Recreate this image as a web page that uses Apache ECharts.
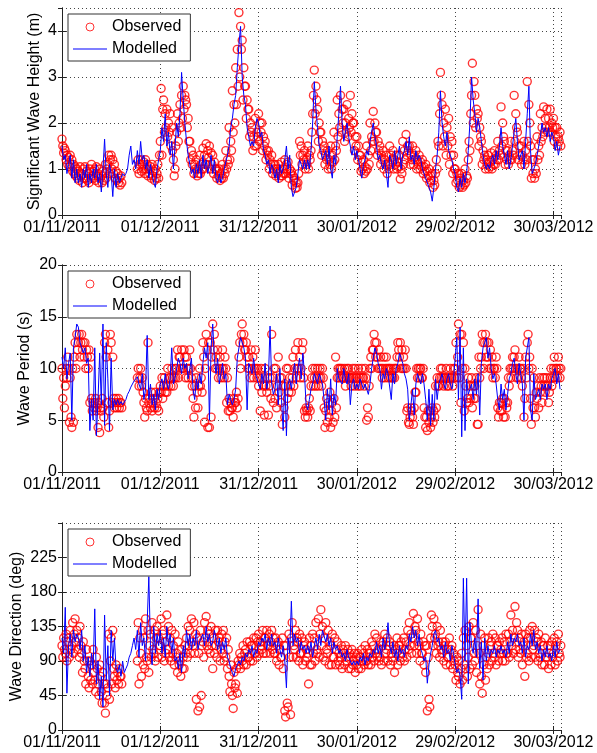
<!DOCTYPE html>
<html>
<head>
<meta charset="utf-8">
<script src="https://cdn.jsdelivr.net/npm/echarts@6/dist/echarts.min.js"></script>
<style>
html, body { margin: 0; padding: 0; background: #fff; }
#chart { width: 597px; height: 753px; }
</style>
</head>
<body>
<div id="chart"></div>
<script>
// x is days since 01/11/2011; observations every 6 h, model output every 12 h
var obsStep = 0.25;
var modStep = 0.5;
var tickLabels = ['01/11/2011', '01/12/2011', '31/12/2011', '30/01/2012', '29/02/2012', '30/03/2012'];

// significant wave height (m), observed, 4 per day
var hsObs = [
  1.65,1.5,1.35,1.45, 1.4,1.2,1.3,1.1, 1.25,1.05,1.3,1.1, 1.2,0.95,1.1,0.9, 1.05,0.85,1.0,0.8,
  0.95,0.75,1.05,0.85, 0.9,0.7,1.0,0.8, 1.05,0.8,0.95,0.75, 0.9,0.7,1.0,0.8, 1.1,0.85,0.95,0.8,
  1.0,0.75,1.05,0.85, 0.9,0.7,1.0,0.8, 0.85,0.7,0.95,0.75, 0.9,1.1,0.8,1.0, 1.1,1.3,0.9,1.2,
  1.3,1.0,1.2,0.9, 1.1,0.8,0.95,0.75, 0.9,0.7,0.8,0.65, 0.85,0.7,null,null, null,null,null,null,
  null,null,null,null, null,null,null,null, null,null,null,null, 1.0,1.2,0.9,1.1, 1.2,0.95,1.1,1.0,
  1.15,0.9,1.2,1.0, 1.1,0.85,1.0,0.9, 1.05,0.8,1.1,0.85, 0.95,0.75,1.0,0.8, 0.9,1.1,0.8,1.3,
  1.6,2.75,1.3,2.3, 2.5,1.8,2.2,1.9, 2.3,1.7,2.0,1.8, 2.2,1.5,1.9,1.4, 1.2,0.85,1.0,1.5,
  1.8,2.2,1.6,2.0, 2.4,1.9,2.6,2.1, 2.8,2.3,2.6,2.5, 2.4,1.9,2.1,1.6, 1.6,1.2,1.4,1.1,
  1.3,0.9,1.1,1.0, 1.2,0.85,1.0,0.9, 1.3,0.9,1.1,1.0, 1.45,1.0,1.3,1.1, 1.55,1.1,1.4,1.25,
  1.5,1.0,1.35,1.1, 1.3,0.9,1.15,1.0, 1.0,0.8,0.95,0.85, 1.0,0.75,0.9,0.8, 1.1,0.8,1.0,0.9,
  1.4,1.0,1.2,1.1, 1.9,1.2,1.6,1.4, 2.7,1.8,2.4,2.0, 3.2,2.4,3.6,2.8, 4.4,3.0,4.1,3.6,
  3.8,2.5,3.2,2.8, 2.8,2.1,2.5,2.3, 2.3,1.7,2.0,1.8, 1.9,1.4,1.7,1.5, 2.1,1.5,1.8,1.7,
  2.2,1.6,2.0,1.8, 2.0,1.4,1.7,1.5, 1.6,1.2,1.4,1.3, 1.4,1.0,1.2,1.1, 1.3,0.9,1.1,1.0,
  1.1,0.85,1.0,0.9, 1.1,0.8,0.95,0.85, 1.15,0.85,1.0,0.9, 1.2,0.9,1.1,1.0, 1.15,0.8,1.0,0.9,
  0.95,0.65,0.85,0.75, 0.8,0.58,0.7,0.6, 0.7,0.9,1.6,1.3, 1.5,1.1,1.3,1.2, 1.4,1.0,1.2,1.1,
  1.5,1.0,1.3,1.2, 1.4,1.8,2.2,2.6, 3.15,2.2,2.8,2.5, 2.3,1.6,2.0,1.8, 1.8,1.3,1.6,1.4,
  1.5,1.1,1.3,1.2, 1.4,1.0,1.2,1.1, 1.5,1.0,1.3,1.15, 1.8,1.2,1.5,1.4, 2.5,1.7,2.2,1.9,
  2.6,1.8,2.3,2.0, 2.3,1.6,2.0,1.8, 2.4,1.7,2.1,1.9, 2.6,1.8,2.2,2.0, 2.0,1.4,1.7,1.5,
  1.7,1.2,1.5,1.3, 1.3,0.95,1.15,1.0, 1.2,0.9,1.05,0.95, 1.5,1.0,1.3,1.1, 2.0,1.4,1.7,1.6,
  2.25,1.6,2.0,1.8, 1.8,1.3,1.6,1.4, 1.5,1.1,1.3,1.2, 1.4,1.0,1.2,1.1, 1.3,0.9,1.1,1.0,
  1.5,1.1,1.3,1.2, 1.4,1.0,1.2,1.1, 1.3,1.0,1.15,1.05, 1.3,0.78,1.0,0.9, 1.6,1.1,1.4,1.2,
  1.75,1.3,1.5,1.4, 1.5,1.1,1.3,1.2, 1.5,1.1,1.3,1.2, 1.4,1.0,1.2,1.1, 1.3,1.0,1.15,1.05,
  1.2,0.9,1.05,0.95, 1.1,0.8,0.95,0.85, 1.0,0.7,0.85,0.75, 0.9,0.6,0.75,0.65, 0.9,1.2,1.0,1.6,
  1.5,2.2,3.1,2.6, 2.4,1.5,2.0,1.7, 2.3,1.3,1.9,1.5, 2.1,1.1,1.7,1.3, 1.6,0.9,1.3,1.0,
  1.0,0.7,0.9,0.75, 0.9,0.6,0.8,0.65, 0.9,0.6,0.75,0.65, 1.0,0.7,0.85,0.8, 1.2,1.6,1.4,2.2,
  2.6,3.3,2.0,2.9, 2.6,1.9,2.3,2.1, 2.2,1.5,1.9,1.7, 1.6,1.1,1.4,1.2, 1.3,1.0,1.2,1.1,
  1.3,1.0,1.15,1.05, 1.35,1.0,1.2,1.1, 1.4,1.1,1.3,1.2, 1.6,1.2,1.4,1.3, 2.35,1.5,2.0,1.7,
  1.6,1.1,1.4,1.2, 1.4,1.1,1.3,1.2, 1.6,1.2,1.4,1.3, 2.6,1.6,2.2,1.9, 1.8,1.2,1.5,1.3,
  1.5,1.1,1.3,1.2, 1.6,1.1,1.4,1.2, 2.9,1.6,2.4,2.0, 1.5,0.8,1.2,0.9, 1.2,0.8,1.0,0.9,
  1.7,1.2,1.5,1.3, 2.2,1.6,1.9,1.7, 2.35,1.8,2.1,1.9, 2.3,1.8,2.1,1.9, 2.3,1.8,2.0,1.9,
  2.1,1.6,1.9,1.7, 1.9,1.5,1.7,1.6, 1.8,1.5
];
// significant wave height (m), modelled, 2 per day
var hsMod = [
  1.5, 1.2, 1.3, 0.9, 1.1, 1.3, 0.8, 1.2, 0.7, 1.0,
  0.7, 0.9, 0.6, 1.0, 0.8, 1.1, 0.6, 0.9, 0.7, 1.0,
  0.8, 1.1, 0.7, 0.9, 0.5, 1.0, 1.65, 0.9, 0.6, 1.1,
  0.9, 0.4, 1.0, 0.6, 0.9, 0.7, 0.8, 0.9, 0.85, 0.9,
  1.0, 1.3, 1.5, 1.1, 1.2, 1.0, 1.4, 1.1, 1.6, 1.2,
  1.3, 1.0, 1.2, 0.8, 1.1, 0.9, 0.7, 0.6, 1.0, 1.2,
  1.4, 1.9, 1.6, 2.2, 1.5, 1.8, 1.3, 1.6, 1.0, 1.0,
  2.0, 1.7, 2.2, 3.1, 2.5, 2.0, 1.6, 1.3, 1.1, 0.9,
  1.0, 0.8, 1.1, 0.9, 1.2, 0.8, 1.3, 1.0, 1.2, 0.9,
  1.1, 1.3, 0.9, 1.2, 0.8, 0.7, 0.9, 0.7, 0.8, 1.0,
  1.0, 1.3, 1.5, 1.9, 2.1, 2.4, 2.6, 3.2, 3.7, 4.1,
  3.0, 2.6, 2.4, 1.9, 1.7, 1.5, 1.6, 1.5, 1.9, 2.1,
  2.0, 1.7, 1.8, 1.4, 1.3, 1.1, 1.2, 0.9, 1.1, 1.0,
  0.8, 1.0, 0.7, 1.1, 0.9, 1.0, 1.2, 1.5, 1.0, 1.3,
  0.6, 0.4, 0.5, 0.6, 0.9, 1.2, 1.1, 1.0, 1.2, 1.0,
  1.2, 1.0, 1.4, 2.0, 2.9, 2.3, 1.9, 1.5, 1.4, 1.2,
  1.2, 1.4, 1.1, 1.5, 1.0, 0.8, 1.3, 1.1, 1.7, 2.2,
  2.8, 2.0, 1.6, 1.8, 2.0, 1.7, 1.5, 1.3, 1.5, 1.2,
  1.4, 1.2, 1.0, 0.8, 1.1, 1.2, 1.4, 1.3, 1.6, 1.8,
  2.0, 1.7, 1.5, 1.2, 1.3, 1.1, 1.0, 1.2, 0.9, 0.6,
  1.3, 1.2, 1.0, 1.4, 1.1, 1.3, 1.5, 1.0, 1.3, 1.4,
  1.6, 1.3, 1.7, 1.2, 1.3, 1.1, 1.4, 1.2, 1.3, 1.2,
  1.0, 0.9, 0.8, 0.7, 0.6, 0.5, 0.3, 0.6, 1.0, 1.3,
  1.8, 2.7, 2.0, 1.7, 1.5, 1.8, 1.4, 1.3, 1.2, 1.0,
  0.9, 0.6, 0.5, 0.8, 0.6, 0.9, 0.7, 0.9, 1.4, 2.0,
  3.0, 2.5, 2.2, 1.8, 2.1, 1.9, 1.6, 1.3, 1.1, 1.0,
  1.1, 1.0, 1.2, 1.3, 1.1, 1.4, 1.2, 1.5, 1.9, 1.5,
  1.3, 1.1, 1.4, 1.0, 1.2, 1.5, 1.8, 2.1, 1.6, 1.2,
  1.2, 1.4, 1.0, 1.6, 2.2, 2.8, 1.4, 0.9, 1.0, 1.1,
  1.3, 1.5, 1.7, 2.0, 1.8, 1.9, 1.7, 1.9, 1.6, 1.8,
  1.7, 1.4, 1.6, 1.3, 1.5
];

// wave period (s), observed, 4 per day
var tpObs = [
  10.0,7.1,9.1,6.2, 8.3,10.0,9.1,11.1, 10.0,4.8,9.1,5.3, 4.3,10.0,4.8,11.1, 12.5,10.0,13.3,11.8,
  12.5,13.3,11.1,12.5, 13.3,11.8,12.5,11.1, 12.5,10.0,11.8,11.1, 10.0,11.8,6.7,11.1, 7.1,5.9,6.7,6.2,
  6.7,7.1,5.9,6.2, 4.3,6.7,3.8,6.2, 5.9,7.1,6.2,5.3, 12.5,13.3,11.1,6.7, 11.8,4.3,5.9,13.3,
  12.5,6.7,11.1,7.1, 6.2,6.7,7.1,6.2, 6.7,7.1,6.2,6.7, 6.7,6.2,null,null, null,null,null,null,
  null,null,null,null, null,null,null,null, null,null,null,null, 9.1,10.0,8.3,9.1, 10.0,8.3,9.1,7.7,
  6.7,5.3,7.1,6.2, 5.9,12.5,6.7,7.1, 6.2,7.7,5.9,6.7, 7.1,6.2,7.7,6.7, 6.2,7.1,5.9,7.7,
  8.3,7.7,9.1,7.1, 8.3,9.1,7.7,8.3, 7.7,10.0,8.3,9.1, 9.1,8.3,10.0,9.1, 8.3,9.1,10.0,9.1,
  10.0,11.8,9.1,11.1, 11.1,10.0,11.8,10.0, 10.0,11.8,11.1,9.1, 11.1,10.0,9.1,10.0, 11.8,10.0,9.1,8.3,
  7.1,5.3,8.3,6.2, 9.1,7.7,6.2,8.3, 10.0,8.3,9.1,7.7, 12.5,11.1,4.8,10.0, 13.3,11.8,4.3,12.5,
  4.3,12.5,5.3,11.1, 14.3,11.8,13.3,10.0, 11.1,10.0,11.8,9.1, 10.0,11.1,9.1,10.0, 11.8,10.0,9.1,11.1,
  10.0,6.7,9.1,5.9, 7.1,5.9,6.7,6.2, 6.2,5.3,7.1,6.7, 6.7,7.7,6.2,7.1, 11.1,12.5,10.0,13.3,
  14.3,12.5,13.3,11.8, 11.8,12.5,11.1,10.0, 11.1,10.0,9.1,11.8, 10.0,11.1,9.1,10.0, 11.8,10.0,9.1,10.0,
  8.3,9.1,5.9,10.0, 7.7,9.1,8.3,5.5, 10.0,8.3,7.7,9.1, 5.5,8.3,9.1,7.1, 13.3,9.1,6.7,10.0,
  7.1,10.0,6.2,8.3, 11.1,7.7,9.1,6.7, 9.1,4.6,8.3,6.2, 5.3,8.3,10.0,7.1, 10.0,7.7,9.1,8.3,
  7.7,9.1,11.1,8.3, 10.0,11.8,9.1,10.0, 12.5,10.0,11.1,9.1, 10.0,11.8,12.5,9.1, 5.9,5.3,6.2,5.9,
  5.3,6.2,7.1,5.9, 8.3,9.1,10.0,8.3, 9.1,10.0,8.3,9.1, 10.0,8.3,9.1,10.0, 9.1,8.3,10.0,9.1,
  6.2,4.3,5.9,7.1, 4.8,6.7,5.3,7.7, 4.3,5.9,6.7,4.8, 7.1,5.3,11.1,6.2, 9.1,10.0,9.1,10.0,
  10.0,9.1,10.0,9.1, 9.1,10.0,8.3,9.1, 10.0,9.1,10.0,9.1, 9.1,8.3,9.1,10.0, 9.1,8.3,10.0,9.1,
  9.1,8.3,10.0,9.1, 8.3,9.1,10.0,9.1, 9.1,8.3,10.0,9.1, 5.0,6.2,5.3,8.3, 10.0,11.1,10.0,11.8,
  11.8,13.3,12.5,11.1, 12.5,11.1,10.0,11.8, 10.0,11.1,10.0,9.1, 10.0,11.1,9.1,10.0, 11.1,10.0,9.1,10.0,
  10.0,9.1,10.0,9.1, 9.1,10.0,9.1,10.0, 10.0,11.1,12.5,11.8, 11.1,12.5,10.0,11.8, 10.0,11.1,10.0,11.8,
  10.0,5.9,6.2,4.8, 4.6,5.3,6.2,5.9, 5.3,4.6,6.2,7.7, 7.7,10.0,9.1,10.0, 9.1,10.0,10.0,9.1,
  9.1,10.0,6.2,5.3, 4.3,5.3,4.0,5.9, 4.8,5.9,4.3,5.3, 6.2,4.8,5.9,5.3, 8.3,6.2,9.1,8.3,
  8.3,9.1,10.0,9.1, 10.0,9.1,8.3,9.1, 9.1,10.0,8.3,9.1, 8.3,9.1,10.0,9.1, 9.1,8.3,10.0,9.1,
  10.0,12.5,9.1,11.1, 14.3,9.1,13.3,6.7, 13.3,10.0,12.5,5.9, 10.0,8.3,6.7,7.1, 9.1,6.7,8.3,7.1,
  9.1,6.2,8.3,7.1, 8.3,7.1,9.1,4.6, 4.6,11.1,9.1,10.0, 11.1,13.3,12.5,10.0, 12.5,13.3,11.1,12.5,
  11.1,12.5,10.0,11.8, 10.0,11.1,9.1,10.0, 10.0,9.1,11.1,10.0, 6.2,5.3,6.7,5.9, 6.7,5.9,7.1,5.3,
  7.1,5.3,6.7,6.2, 6.7,9.1,8.3,10.0, 9.1,10.0,11.1,10.0, 11.1,11.8,10.0,9.1, 10.0,9.1,11.1,10.0,
  10.0,9.1,8.3,10.0, 5.3,7.1,11.1,9.1, 12.5,13.3,10.0,11.1, 7.1,4.6,10.0,6.2, 9.1,6.2,5.3,7.7,
  7.1,8.3,6.2,9.1, 7.7,8.3,6.7,9.1, 8.3,9.1,7.7,8.3, 9.1,8.3,6.7,7.7, 9.1,10.0,8.3,9.1,
  10.0,11.1,9.1,10.0, 10.0,9.1,11.1,10.0, 9.1,10.0
];
// wave period (s), modelled, 2 per day
var tpMod = [
  11.1, 10.0, 12.0, 9.0, 10.5, 11.5, 5.0, 12.0, 13.0, 14.3,
  14.0, 12.5, 12.0, 11.5, 12.0, 10.5, 11.0, 4.0, 7.0, 5.0,
  12.0, 3.5, 7.0, 11.5, 6.5, 14.3, 4.5, 12.5, 9.0, 4.0,
  11.0, 6.0, 7.0, 6.5, 7.0, 6.5, 6.8, 6.5, 6.5, 7.0,
  7.5, 7.8, 8.2, 8.5, 8.8, 9.0, 9.2, 8.5, 8.0, 9.5,
  7.0, 8.0, 13.2, 7.0, 8.5, 6.5, 7.5, 6.0, 8.0, 7.0,
  8.5, 9.0, 8.0, 9.5, 8.5, 8.0, 9.0, 12.0, 8.5, 9.0,
  10.0, 11.0, 10.5, 9.5, 11.0, 10.0, 10.5, 9.0, 10.0, 11.0,
  8.0, 7.0, 9.0, 8.0, 9.5, 8.5, 10.5, 12.0, 11.0, 12.5,
  5.0, 12.0, 14.3, 11.0, 9.5, 11.0, 8.5, 9.5, 10.5, 9.0,
  9.5, 6.5, 7.5, 7.0, 6.5, 7.0, 8.0, 11.0, 12.0, 13.0,
  12.5, 12.0, 11.0, 6.0, 10.5, 10.0, 9.5, 11.0, 9.5, 9.0,
  8.5, 8.0, 9.5, 8.5, 10.5, 8.0, 9.0, 14.1, 8.5, 7.5,
  8.0, 9.5, 6.5, 10.0, 7.0, 4.0, 9.0, 3.5, 8.5, 9.0,
  8.0, 9.5, 10.5, 8.5, 10.0, 11.0, 9.0, 11.5, 9.5, 6.5,
  6.0, 7.0, 8.0, 8.5, 9.5, 9.0, 8.5, 9.5, 9.0, 8.5,
  7.0, 5.0, 8.0, 6.0, 9.0, 5.5, 7.5, 6.5, 10.0, 9.0,
  9.0, 8.5, 10.0, 9.0, 8.5, 9.5, 6.5, 8.5, 9.0, 8.0,
  8.5, 8.0, 9.0, 8.5, 8.0, 8.5, 8.0, 7.5, 8.5, 10.0,
  11.0, 12.0, 11.5, 10.5, 10.0, 8.0, 9.5, 9.0, 10.0, 9.5,
  9.5, 7.0, 9.5, 8.5, 10.0, 10.5, 11.5, 11.0, 10.5, 9.5,
  9.0, 8.0, 5.0, 6.5, 8.0, 5.5, 8.5, 9.5, 9.0, 8.5,
  9.5, 8.5, 7.0, 5.0, 8.0, 4.5, 7.5, 5.0, 9.0, 7.0,
  8.5, 9.0, 9.5, 8.5, 8.0, 9.0, 9.5, 8.5, 8.0, 9.0,
  9.0, 13.0, 7.0, 14.0, 3.4, 12.0, 4.0, 9.0, 7.5, 8.0,
  8.5, 7.0, 9.0, 7.5, 9.5, 5.5, 10.5, 12.0, 12.5, 13.0,
  11.0, 12.0, 10.0, 9.0, 9.5, 8.5, 7.0, 6.0, 8.5, 7.0,
  8.0, 6.0, 7.5, 9.0, 9.5, 10.5, 11.0, 9.5, 8.5, 10.5,
  9.5, 8.5, 5.0, 11.0, 12.0, 13.0, 6.0, 5.0, 9.5, 7.0,
  7.5, 8.0, 7.0, 8.5, 8.0, 8.5, 7.0, 8.5, 8.0, 9.0,
  9.5, 10.0, 8.5, 9.5, 8.0
];

// wave direction (deg), observed, 4 per day
var dirObs = [
  110,95,120,105, 100,125,90,115, 120,95,130,105, 110,140,100,125, 145,115,130,105,
  120,95,135,110, 100,75,115,90, 80,60,105,90, 70,55,90,65, 85,60,105,75,
  65,50,95,80, 60,45,85,70, 50,35,75,60, 35,22,60,45, 55,125,40,90,
  120,60,130,80, 70,55,85,65, 75,60,80,70, 70,60,null,null, null,null,null,null,
  null,null,null,null, null,null,null,null, null,null,null,null, 90,140,60,120, 100,70,130,85,
  120,80,145,95, 90,130,75,110, 125,95,140,105, 100,130,90,120, 135,95,120,110,
  110,145,95,125, 130,90,115,100, 150,105,135,95, 120,90,130,100, 110,85,125,95,
  100,75,115,85, 90,70,105,80, 95,80,110,100, 120,95,135,110, 130,100,145,115,
  110,140,100,125, 40,120,25,100, 30,130,45,110, 115,95,140,120, 148,110,130,105,
  125,100,135,110, 80,120,100,130, 110,95,130,115, 120,90,105,125, 100,130,90,115,
  95,120,80,105, 70,50,85,60, 45,28,75,55, 60,80,48,90, 85,100,80,95,
  90,110,85,100, 105,85,115,95, 95,115,90,110, 110,90,120,100, 100,120,95,115,
  125,100,115,110, 105,130,100,120, 120,100,130,110, 110,125,100,115, 130,105,120,100,
  100,120,90,110, 115,85,105,95, 95,120,80,110, 25,17,110,35, 30,125,95,20,
  120,140,95,110, 105,130,95,120, 115,90,125,100, 100,120,85,110, 115,90,105,95,
  100,60,120,85, 110,85,125,100, 120,90,140,105, 100,145,95,125, 157,110,135,95,
  120,90,140,105, 100,130,85,115, 110,85,125,95, 95,120,85,105, 115,90,100,85,
  95,110,80,105, 100,85,110,95, 90,105,80,100, 95,80,105,85, 90,100,75,95,
  85,100,80,95, 95,80,105,90, 100,85,110,90, 90,105,85,100, 100,85,115,95,
  110,90,125,100, 120,95,105,90, 95,115,85,110, 115,90,125,100, 105,120,90,110,
  115,85,100,95, 90,110,75,105, 100,120,85,110, 110,90,115,100, 95,120,90,105,
  115,95,130,105, 140,110,125,100, 120,152,110,135, 130,100,145,115, 110,90,125,100,
  100,115,85,110, 75,110,25,95, 40,30,120,150, 135,110,145,120, 125,100,135,110,
  115,95,130,105, 100,115,90,110, 115,85,105,95, 95,120,85,105, 110,80,100,90,
  85,65,95,75, 70,90,60,80, 100,65,120,85, 130,80,110,70, 95,135,80,120,
  120,85,140,100, 90,130,75,110, 157,100,60,125, 70,48,110,85, 120,65,95,80,
  100,120,85,110, 115,90,125,100, 95,120,85,110, 110,90,115,100, 105,120,90,100,
  115,90,125,100, 100,125,95,115, 150,110,130,100, 120,161,105,140, 130,95,120,105,
  100,125,85,110, 115,70,125,95, 100,120,90,130, 120,95,135,105, 110,130,95,120,
  115,90,125,100, 95,115,85,110, 110,85,120,95, 95,110,80,100, 110,85,115,95,
  100,120,85,110, 115,90,125,100, 95,110
];
// wave direction (deg), modelled, 2 per day
var dirMod = [
  120, 100, 160, 48, 110, 125, 95, 130, 115, 125,
  120, 105, 130, 90, 110, 75, 95, 70, 100, 80,
  158, 60, 90, 40, 70, 30, 150, 65, 110, 45,
  130, 90, 120, 80, 75, 85, 70, 90, 75, 80,
  85, 95, 100, 110, 120, 105, 130, 95, 140, 110,
  120, 90, 140, 200, 110, 85, 135, 100, 125, 110,
  130, 100, 120, 95, 135, 110, 125, 100, 120, 90,
  95, 80, 100, 75, 110, 95, 130, 110, 125, 105,
  120, 110, 130, 105, 115, 120, 125, 110, 135, 115,
  125, 110, 115, 130, 120, 105, 120, 100, 115, 105,
  120, 95, 90, 80, 75, 70, 80, 85, 90, 85,
  95, 90, 100, 95, 105, 100, 110, 95, 105, 100,
  115, 110, 120, 115, 125, 105, 120, 110, 125, 110,
  115, 100, 120, 105, 95, 110, 90, 55, 120, 100,
  168, 110, 125, 115, 120, 100, 115, 105, 110, 100,
  110, 100, 115, 95, 110, 120, 105, 125, 110, 130,
  130, 115, 125, 110, 120, 100, 115, 105, 110, 100,
  105, 95, 100, 90, 105, 95, 95, 85, 90, 85,
  90, 85, 95, 90, 100, 85, 95, 90, 100, 95,
  105, 100, 115, 100, 110, 95, 120, 105, 115, 140,
  110, 100, 115, 95, 105, 90, 110, 100, 105, 95,
  110, 105, 125, 115, 135, 120, 130, 110, 125, 105,
  100, 90, 95, 61, 85, 100, 110, 125, 130, 115,
  120, 105, 110, 95, 115, 100, 105, 90, 110, 100,
  85, 75, 80, 70, 40, 198, 90, 198, 60, 140,
  110, 100, 120, 95, 171, 80, 115, 65, 120, 90,
  110, 95, 105, 100, 110, 95, 105, 100, 110, 100,
  105, 95, 115, 100, 125, 110, 120, 115, 125, 110,
  115, 100, 120, 95, 110, 105, 125, 110, 130, 105,
  115, 100, 110, 90, 105, 95, 110, 95, 100, 90,
  110, 95, 115, 100, 105
];

var panels = [
  { obs: hsObs, mod: hsMod, name: 'Significant Wave Height (m)', max: 4.5, interval: 1, top: 8, nameGap: 19, hideMax: true },
  { obs: tpObs, mod: tpMod, name: 'Wave Period (s)', max: 20, interval: 5, top: 265, nameGap: 29, hideMax: false },
  { obs: dirObs, mod: dirMod, name: 'Wave Direction (deg)', max: 270, interval: 45, top: 523, nameGap: 37, hideMax: true }
];
var xMax = 152.3;
var font = "'Liberation Sans', Arial, sans-serif";

function toPairs(arr, step) {
  var out = [];
  arr.forEach(function (v, i) {
    if (v !== null) out.push([i * step, v]);
  });
  return out;
}

var grid = [], xAxis = [], yAxis = [], series = [], legend = [];
var lineCol = '#222';

panels.forEach(function (p, k) {
  grid.push({ left: 62, right: 36, top: p.top, height: 207 });

  xAxis.push({
    type: 'value', gridIndex: k, min: 0, max: xMax, interval: 30, position: 'bottom',
    axisLine: { show: true, lineStyle: { color: lineCol, width: 1 } },
    axisTick: { show: true, inside: true, length: 4, lineStyle: { color: lineCol } },
    axisLabel: {
      color: '#000', fontSize: 16, fontFamily: font, margin: 5, showMaxLabel: false,
      formatter: function (v) { return v % 30 === 0 ? tickLabels[v / 30] : ''; }
    },
    splitLine: { show: true, lineStyle: { color: '#444', type: [1, 3], width: 1 } }
  });
  xAxis.push({
    type: 'value', gridIndex: k, min: 0, max: xMax, interval: 30, position: 'top',
    axisLine: { show: true, lineStyle: { color: lineCol, width: 1 } },
    axisTick: { show: true, inside: true, length: 4, lineStyle: { color: lineCol } },
    axisLabel: { show: false }, splitLine: { show: false }
  });

  yAxis.push({
    type: 'value', gridIndex: k, min: 0, max: p.max, interval: p.interval, position: 'left',
    name: p.name, nameLocation: 'middle', nameGap: p.nameGap, nameMoveOverlap: false,
    nameTextStyle: { color: '#000', fontSize: 16, fontFamily: font },
    axisLine: { show: true, lineStyle: { color: lineCol, width: 1 } },
    axisTick: { show: true, inside: true, length: 4, lineStyle: { color: lineCol } },
    axisLabel: { color: '#000', fontSize: 16, fontFamily: font, margin: 5, showMaxLabel: !p.hideMax },
    splitLine: { show: true, lineStyle: { color: '#444', type: [1, 3], width: 1 } }
  });
  yAxis.push({
    type: 'value', gridIndex: k, min: 0, max: p.max, interval: p.interval, position: 'right',
    axisLine: { show: true, lineStyle: { color: lineCol, width: 1 } },
    axisTick: { show: true, inside: true, length: 4, lineStyle: { color: lineCol } },
    axisLabel: { show: false }, splitLine: { show: false }
  });

  series.push({
    type: 'scatter', name: 'Observed', xAxisIndex: 2 * k, yAxisIndex: 2 * k,
    data: toPairs(p.obs, obsStep), symbol: 'circle', symbolSize: 8,
    itemStyle: { color: 'rgba(255,0,0,0)', borderColor: '#ff0000', borderWidth: 1.4 },
    emphasis: { disabled: true }
  });
  series.push({
    type: 'line', name: 'Modelled', xAxisIndex: 2 * k, yAxisIndex: 2 * k,
    data: toPairs(p.mod, modStep), symbol: 'none',
    lineStyle: { color: '#0000ff', width: 1 }, itemStyle: { color: '#0000ff' },
    emphasis: { disabled: true }
  });

  legend.push({
    orient: 'vertical', left: 68, top: p.top + 6,
    data: [
      { name: 'Observed', itemStyle: { borderWidth: 1 } },
      { name: 'Modelled', icon: 'path://M0,0H34V1.2H0Z' }
    ],
    backgroundColor: '#fff', borderColor: '#333', borderWidth: 1,
    padding: [5, 9, 4, 5], itemGap: 6, itemWidth: 34, itemHeight: 8,
    textStyle: { color: '#000', fontSize: 16, fontFamily: font },
    selectedMode: false
  });
});

var chart = echarts.init(document.getElementById('chart'), null, { renderer: 'canvas' });
chart.setOption({
  animation: false,
  backgroundColor: '#fff',
  grid: grid,
  xAxis: xAxis,
  yAxis: yAxis,
  legend: legend,
  series: series
});
</script>
</body>
</html>
